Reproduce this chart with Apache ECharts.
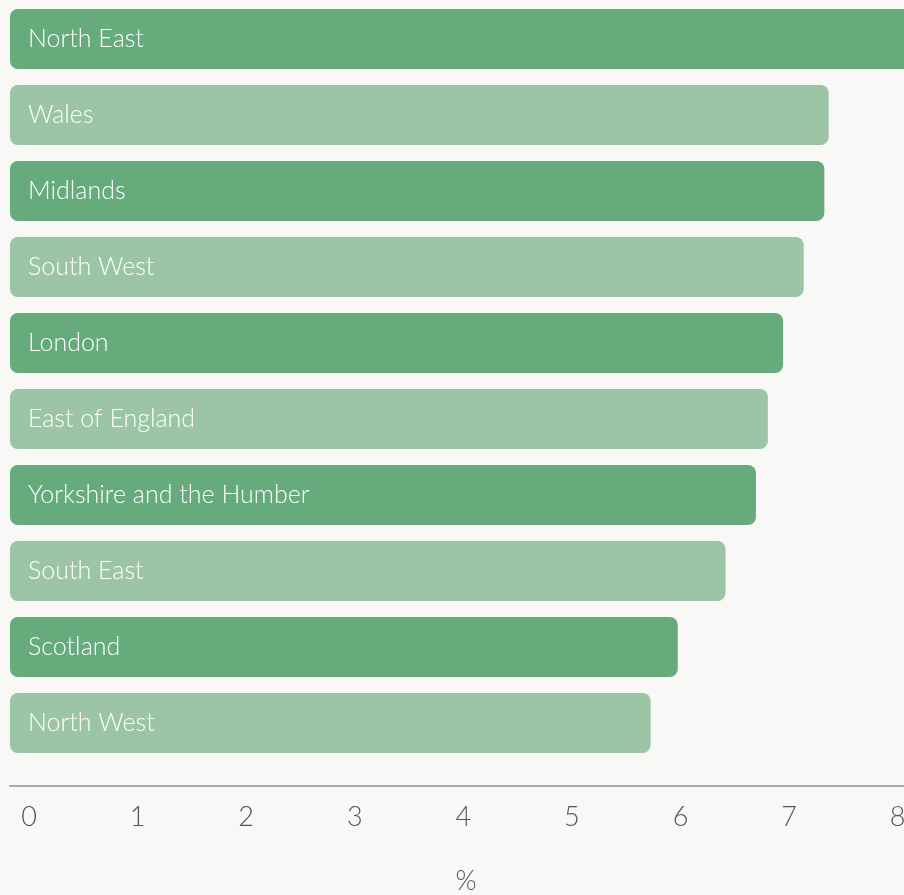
<!DOCTYPE html>
<html>
<head>
<meta charset="utf-8">
<script src="https://cdn.jsdelivr.net/npm/echarts@6/dist/echarts.min.js"></script>
<style>
  html, body { margin: 0; padding: 0; background: #f8f8f6; }
  #main { width: 904px; height: 895px; }
</style>
</head>
<body>
<div id="main"></div>
<script>
var regions = ['North East', 'Wales', 'Midlands', 'South West', 'London',
    'East of England', 'Yorkshire and the Humber', 'South East', 'Scotland', 'North West'];
var values = [8.4, 7.54, 7.5, 7.31, 7.12, 6.98, 6.87, 6.59, 6.15, 5.9];
var xTicks = [0, 1, 2, 3, 4, 5, 6, 7, 8];

var darkGreen = '#65ab7c';
var lightGreen = '#9cc5a5';

option = {
    backgroundColor: '#f8f8f6',
    animation: false,
    grid: {
        left: 10,
        right: -30,
        top: 1,
        height: 760,
        containLabel: false,
        outerBoundsMode: 'none'
    },
    xAxis: {
        type: 'value',
        min: 0,
        max: 8.51,
        interval: 1,
        offset: 25,
        name: '%',
        nameLocation: 'middle',
        nameGap: 82,
        nameTextStyle: {
            fontFamily: 'Lato',
            fontWeight: 300,
            fontSize: 27,
            color: '#555',
            padding: [0, 12, 0, 0]
        },
        axisLine: {
            show: true,
            lineStyle: { color: '#aaa', width: 2 }
        },
        axisTick: { show: false },
        splitLine: { show: false },
        axisLabel: {
            showMaxLabel: false,
            margin: 18,
            fontFamily: 'Lato',
            fontWeight: 300,
            fontSize: 27,
            color: '#555',
            padding: [0, 0, 0, 38],
            formatter: function (v) {
                return xTicks.indexOf(v) >= 0 ? String(v) : '';
            }
        }
    },
    yAxis: {
        type: 'category',
        data: regions,
        inverse: true,
        axisLine: { show: false },
        axisTick: { show: false },
        axisLabel: { show: false },
        splitLine: { show: false }
    },
    series: [{
        type: 'bar',
        barWidth: 60,
        data: values.map(function (v, i) {
            return {
                value: v,
                itemStyle: { color: i % 2 === 0 ? darkGreen : lightGreen }
            };
        }),
        itemStyle: { borderRadius: 8 },
        label: {
            show: true,
            position: 'insideLeft',
            distance: 18,
            formatter: '{b}',
            fontFamily: 'Lato',
            fontWeight: 300,
            fontSize: 25,
            color: '#fff'
        }
    }]
};

var myChart = echarts.init(document.getElementById('main'));
myChart.setOption(option);
</script>
</body>
</html>
